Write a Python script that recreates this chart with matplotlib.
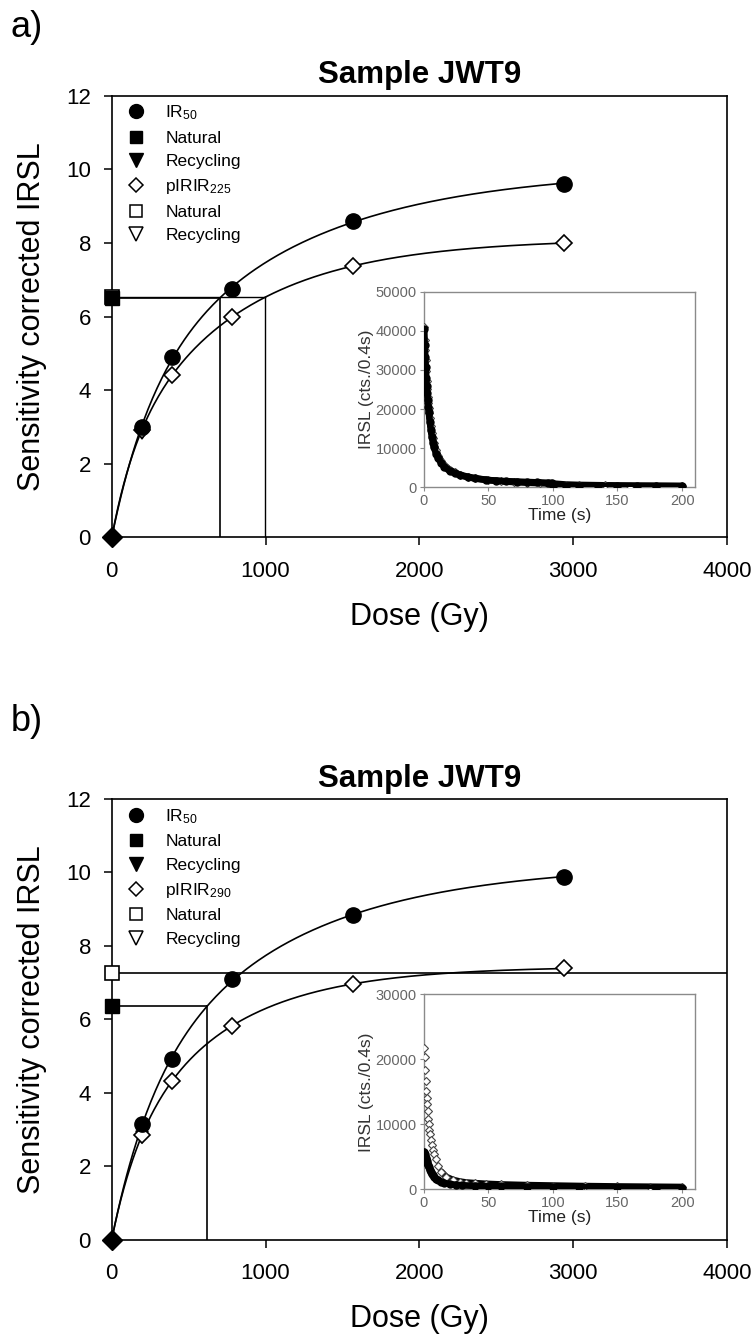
import numpy as np
import matplotlib
matplotlib.use('Agg')
import matplotlib.pyplot as plt
from matplotlib.lines import Line2D

plt.rcParams['font.family'] = ['Liberation Sans', 'DejaVu Sans']
plt.rcParams['mathtext.default'] = 'regular'

# ---------------- dose response data ----------------
DOSE = np.array([196, 392, 784, 1568, 2940])

A_IR50 = np.array([2.99, 4.91, 6.76, 8.59, 9.61])
A_PIR = np.array([2.92, 4.41, 5.98, 7.37, 8.00])
A_NAT_IR50 = 6.50
A_NAT_PIR = 6.52
A_REC_IR50 = 2.95
A_REC_PIR = 2.85
A_PIR_LABEL = r'pIRIR$_{225}$'

B_IR50 = np.array([3.14, 4.92, 7.09, 8.84, 9.89])
B_PIR = np.array([2.84, 4.32, 5.82, 6.96, 7.39])
B_NAT_IR50 = 6.36
B_NAT_PIR = 7.25
B_REC_IR50 = 3.05
B_REC_PIR = 2.80
B_PIR_LABEL = r'pIRIR$_{290}$'

REC_DOSE = 196

# ---------------- decay curves in the insets ----------------
TA_IR = [0.4, 0.8, 1.2, 1.6, 2.0, 2.4, 2.8, 3.2, 3.6, 4.0, 4.8, 5.6, 6.4, 7.2, 8.0, 9.6, 11.2,
         13.6, 16, 20, 24, 28, 34, 40, 48, 56, 64, 72, 80, 88, 96, 99.6, 100.4, 110, 120, 135,
         150, 165, 180, 200]
CA_IR = [40400, 36400, 33400, 30700, 27900, 25800, 24000, 22300, 20600, 19200, 16800, 14600,
         12800, 11400, 10200, 8600, 7400, 6200, 5200, 4200, 3600, 3100, 2600, 2250, 1900, 1700,
         1550, 1450, 1350, 1250, 1150, 1100, 450, 420, 400, 380, 360, 340, 320, 300]
TA_PIR = [0.4, 0.8, 1.2, 1.6, 2.0, 2.4, 2.8, 3.2, 3.6, 4.0, 4.4, 4.8, 5.6, 6.4, 7.2, 8.0, 9.6,
          11.2, 13.6, 16, 20, 24, 28, 34, 40, 50, 60, 70, 80, 90, 100, 110, 120, 140, 160, 180, 200]
CA_PIR = [41000, 37700, 35000, 32600, 29600, 27200, 25200, 23200, 21600, 20200, 18900, 17700,
          15600, 13900, 12500, 11300, 9500, 8100, 6700, 5600, 4500, 3800, 3200, 2700, 2300, 1850,
          1550, 1350, 1200, 1050, 950, 700, 600, 500, 420, 380, 330]

TB_IR = [0.4, 0.8, 1.2, 1.6, 2.0, 2.4, 2.8, 3.2, 4.0, 4.8, 5.6, 6.4, 7.2, 8.0, 9.6, 11.2, 13.6,
         16, 20, 25, 30, 40, 50, 60, 80, 100, 120, 150, 180, 200]
CB_IR = [5800, 5500, 5200, 4900, 4600, 4300, 4050, 3800, 3400, 3000, 2700, 2400, 2150, 1950,
         1650, 1400, 1150, 950, 800, 700, 620, 540, 480, 440, 390, 350, 320, 290, 260, 240]
TB_PIR = [0.4, 0.8, 1.2, 1.6, 2.0, 2.4, 2.8, 3.2, 3.6, 4.0, 4.4, 4.8, 5.6, 6.4, 7.2, 8.0, 9.2,
          11, 13.6, 17.5, 22.7, 28, 33, 40, 48, 60, 80, 100, 125, 150, 175, 200]
CB_PIR = [21800, 20300, 18400, 16700, 15200, 14000, 13100, 12000, 10900, 10000, 9100, 8500,
          7600, 6800, 6100, 5500, 4600, 3600, 2700, 1900, 1450, 1200, 1050, 950, 850, 750, 650,
          580, 500, 440, 400, 360]


def fit_sat(x, y):
    # sum of two saturating exponentials through the origin, least squares
    best = None
    for d1 in np.linspace(40, 1500, 147):
        for d2 in np.linspace(300, 8000, 155):
            if d2 <= d1:
                continue
            A = np.column_stack([1 - np.exp(-x / d1), 1 - np.exp(-x / d2)])
            coef = np.linalg.lstsq(A, y, rcond=None)[0]
            if (coef < 0).any():
                continue
            r = ((A @ coef - y) ** 2).sum()
            if best is None or r < best[0]:
                best = (r, d1, d2, coef)
    _, d1, d2, c = best
    return lambda d: c[0] * (1 - np.exp(-d / d1)) + c[1] * (1 - np.exp(-d / d2))


def equiv_dose(f, level, dmax):
    dd = np.linspace(0, dmax, 4000)
    yy = f(dd)
    return np.interp(level, yy, dd)


def main_panel(ax, ir, pir, nat_ir, nat_pir, rec_ir, rec_pir, pir_label, full_line):
    dd = np.linspace(0, DOSE[-1], 300)
    f_ir = fit_sat(DOSE.astype(float), ir)
    f_pir = fit_sat(DOSE.astype(float), pir)
    ax.plot(dd, f_ir(dd), color='black', lw=1.2, zorder=2)
    ax.plot(dd, f_pir(dd), color='black', lw=1.2, zorder=2)

    de_ir = equiv_dose(f_ir, nat_ir, DOSE[-1])
    ax.plot([0, de_ir], [nat_ir, nat_ir], color='black', lw=1.2, zorder=2)
    ax.plot([de_ir, de_ir], [0, nat_ir], color='black', lw=1.2, zorder=2)
    if full_line:
        ax.axhline(nat_pir, color='black', lw=1.2, zorder=2)
    else:
        de_pir = equiv_dose(f_pir, nat_pir, DOSE[-1])
        ax.plot([0, de_pir], [nat_pir, nat_pir], color='black', lw=1.0, zorder=2)
        ax.plot([de_pir, de_pir], [0, nat_pir], color='black', lw=1.0, zorder=2)

    ax.plot([REC_DOSE], [rec_pir], 'v', ms=9, mfc='white', mec='black', mew=1.2, zorder=3)
    ax.plot([REC_DOSE], [rec_ir], 'v', ms=9, color='black', zorder=3)
    ax.plot(DOSE, pir, 'D', ms=8.3, mfc='white', mec='black', mew=1.2, zorder=4)
    ax.plot(DOSE, ir, 'o', ms=11, color='black', zorder=5)
    ax.plot([0], [nat_pir], 's', ms=10, mfc='white', mec='black', mew=1.2, zorder=6, clip_on=False)
    ax.plot([0], [nat_ir], 's', ms=10, color='black', zorder=7, clip_on=False)
    ax.plot([0], [0], 'D', ms=10.5, color='black', zorder=7, clip_on=False)

    ax.set_xlim(0, 4000)
    ax.set_ylim(0, 12)
    ax.set_xticks(np.arange(0, 4001, 1000))
    ax.set_yticks(np.arange(0, 13, 2))
    ax.tick_params(direction='out', length=6, width=1.1, labelsize=16, pad=9)
    ax.tick_params(axis='x', pad=11)
    for s in ax.spines.values():
        s.set_linewidth(1.2)
    ax.set_xlabel('Dose (Gy)', fontsize=22, labelpad=14)
    ax.set_ylabel('Sensitivity corrected IRSL', fontsize=22, labelpad=14)
    ax.set_title('Sample JWT9', fontsize=22.5, fontweight='bold', pad=9)

    handles = [
        Line2D([], [], ls='', marker='o', ms=10, color='black'),
        Line2D([], [], ls='', marker='s', ms=9, color='black'),
        Line2D([], [], ls='', marker='v', ms=9.5, color='black'),
        Line2D([], [], ls='', marker='D', ms=7.5, mfc='white', mec='black', mew=1.1),
        Line2D([], [], ls='', marker='s', ms=9, mfc='white', mec='black', mew=1.1),
        Line2D([], [], ls='', marker='v', ms=9.5, mfc='white', mec='black', mew=1.1),
    ]
    labels = [r'IR$_{50}$', 'Natural', 'Recycling', pir_label, 'Natural', 'Recycling']
    ax.legend(handles, labels, loc='upper left', bbox_to_anchor=(0.025, 0.982), frameon=False,
              fontsize=12.5, handlelength=1.0, handletextpad=1.2, labelspacing=0.48,
              borderpad=0, borderaxespad=0)


def inset_panel(ax, t_ir, c_ir, t_pir, c_pir, ymax, band_start):
    t_ir = np.array(t_ir)
    c_ir = np.array(c_ir)
    t_pir = np.array(t_pir)
    c_pir = np.array(c_pir)
    k = t_pir >= band_start
    ax.plot(t_pir[k], c_pir[k], color='black', lw=4.8, solid_capstyle='round', zorder=2)
    ax.plot(t_pir, c_pir, 'D', ms=4.2, mfc='white', mec='#444444', mew=0.8, zorder=3)
    ax.plot(t_ir, c_ir, color='black', lw=4.8, solid_capstyle='round', zorder=4)
    ax.plot(t_ir, c_ir, 'o', ms=5, color='black', zorder=5)
    ax.set_xlim(0, 210)
    ax.set_ylim(0, ymax)
    ax.set_xticks(np.arange(0, 201, 50))
    ax.set_yticks(np.arange(0, ymax + 1, 10000))
    for s in ax.spines.values():
        s.set_color('#8a8a8a')
        s.set_linewidth(1.0)
    ax.tick_params(direction='out', length=3, width=0.8, colors='#8a8a8a', labelcolor='#666666',
                   labelsize=10.5, pad=2)
    ax.set_xlabel('Time (s)', fontsize=12.5, color='#222222', labelpad=0)
    ax.set_ylabel('IRSL (cts./0.4s)', fontsize=12.5, color='#333333', labelpad=1)


fig = plt.figure(figsize=(7.56, 13.38), dpi=100)

ax1 = fig.add_axes([0.1478, 0.5983, 0.8138, 0.3303])
main_panel(ax1, A_IR50, A_PIR, A_NAT_IR50, A_NAT_PIR, A_REC_IR50, A_REC_PIR, A_PIR_LABEL, False)
ins1 = fig.add_axes([0.5604, 0.6358, 0.3589, 0.1462])
inset_panel(ins1, TA_IR, CA_IR, TA_PIR, CA_PIR, 50000, 3.0)

ax2 = fig.add_axes([0.1478, 0.0736, 0.8138, 0.3292])
main_panel(ax2, B_IR50, B_PIR, B_NAT_IR50, B_NAT_PIR, B_REC_IR50, B_REC_PIR, B_PIR_LABEL, True)
ins2 = fig.add_axes([0.5604, 0.1111, 0.3589, 0.1457])
inset_panel(ins2, TB_IR, CB_IR, TB_PIR, CB_PIR, 30000, 12.0)

fig.text(0.014, 1 - 10 / 1338, 'a)', fontsize=26, va='top', ha='left')
fig.text(0.014, 1 - 704 / 1338, 'b)', fontsize=26, va='top', ha='left')

fig.savefig('out.png', dpi=100)
